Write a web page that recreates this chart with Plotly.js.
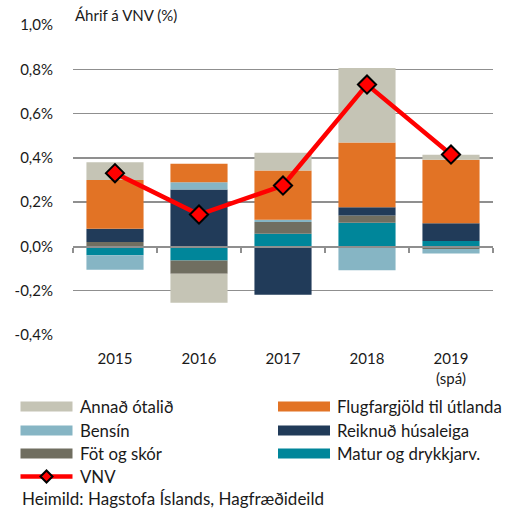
<!DOCTYPE html>
<html>
<head>
<meta charset="utf-8">
<script src="https://cdn.plot.ly/plotly-3.0.1.min.js"></script>
<style>html,body{margin:0;padding:0;background:#fff;}#chart{width:519px;height:511px;}</style>
</head>
<body>
<div id="chart"></div>
<script>
const years = ['2015', '2016', '2017', '2018', '2019<br>(spá)'];
const matur   = [-0.040, -0.063,  0.057, 0.107,  0.025];
const fot     = [ 0.020, -0.060,  0.053, 0.033, -0.012];
const reiknud = [ 0.060,  0.257, -0.218, 0.037,  0.080];
const bensin  = [-0.065,  0.033,  0.010, -0.108, -0.020];
const flug    = [ 0.220,  0.083,  0.223, 0.292,  0.286];
const annad   = [ 0.080, -0.131,  0.080, 0.337,  0.023];
const vnv     = [ 0.331,  0.144,  0.275, 0.731,  0.415];
const yTicks = [-0.4, -0.2, 0, 0.2, 0.4, 0.6, 0.8, 1.0];
const yTickText = ['-0,4%', '-0,2%', '0,0%', '0,2%', '0,4%', '0,6%', '0,8%', '1,0%'];

const names = {
  matur: 'Matur og drykkjarv.', fot: 'Föt og skór', reiknud: 'Reiknuð húsaleiga',
  bensin: 'Bensín', flug: 'Flugfargjöld til útlanda', annad: 'Annað ótalið', vnv: 'VNV'
};
const colors = {
  matur: '#00869A', fot: '#706E60', reiknud: '#213B59',
  bensin: '#86B5C4', flug: '#E27325', annad: '#C5C4B5', vnv: '#FF0000'
};

function bar(key, vals) {
  return {type: 'bar', x: years, y: vals, name: names[key],
    marker: {color: colors[key], line: {width: 0}}, showlegend: false, hoverinfo: 'y'};
}
const traces = [
  bar('matur', matur), bar('fot', fot), bar('reiknud', reiknud),
  bar('bensin', bensin), bar('flug', flug), bar('annad', annad),
  {type: 'scatter', mode: 'lines+markers', x: years, y: vnv, name: names.vnv,
   line: {color: colors.vnv, width: 4.5},
   marker: {symbol: 'diamond', size: 14, color: colors.vnv, line: {color: '#000', width: 2}},
   showlegend: false},
  {type: 'scatter', x: years, y: years.map(() => null), xaxis: 'x2', yaxis: 'y',
   showlegend: false, hoverinfo: 'skip'}
];

// plot area in px: x 73..493, y 25..335
const L = 73, R = 493, T = 25, B = 335;
const px = x => (x - L) / (R - L);
const py = y => (B - y) / (B - T);
const font = 'Lato, "Open Sans", sans-serif';
const txt = '#1a1a1a';

const legendItems = [
  {key: 'annad', col: 0, row: 0}, {key: 'flug', col: 1, row: 0},
  {key: 'bensin', col: 0, row: 1}, {key: 'reiknud', col: 1, row: 1},
  {key: 'fot', col: 0, row: 2}, {key: 'matur', col: 1, row: 2},
  {key: 'vnv', col: 0, row: 3}
];
const rowY = [406.5, 430.5, 453.5, 476.5];
const colX = [[20.5, 72.5, 78], [278, 330, 335]];
const shapes = [], annotations = [];
legendItems.forEach(it => {
  const [x0, x1, tx] = colX[it.col];
  const yc = rowY[it.row];
  if (it.key === 'vnv') {
    shapes.push({type: 'line', xref: 'paper', yref: 'paper', x0: px(x0), x1: px(x1),
      y0: py(yc), y1: py(yc), line: {color: colors.vnv, width: 4.5}});
    const cx = (x0 + x1) / 2, d = 6;
    shapes.push({type: 'path', xref: 'paper', yref: 'paper',
      path: `M ${px(cx - d)} ${py(yc)} L ${px(cx)} ${py(yc - d)} L ${px(cx + d)} ${py(yc)} L ${px(cx)} ${py(yc + d)} Z`,
      fillcolor: colors.vnv, line: {color: '#000', width: 2}});
  } else {
    shapes.push({type: 'rect', xref: 'paper', yref: 'paper', x0: px(x0), x1: px(x1),
      y0: py(yc - 5), y1: py(yc + 5), fillcolor: colors[it.key], line: {width: 0}});
  }
  annotations.push({xref: 'paper', yref: 'paper', x: px(tx), y: py(yc), xanchor: 'left',
    yanchor: 'middle', showarrow: false, text: names[it.key], font: {family: font, size: 16.8, color: txt}});
});
annotations.push({xref: 'paper', yref: 'paper', x: px(20), y: py(498), xanchor: 'left', yanchor: 'middle',
  showarrow: false, text: 'Heimild: Hagstofa Íslands, Hagfræðideild', font: {family: font, size: 17, color: txt}});
annotations.push({xref: 'paper', yref: 'paper', x: 0, y: py(15), xanchor: 'left', yanchor: 'middle',
  showarrow: false, text: 'Áhrif á VNV (%)', font: {family: font, size: 15, color: txt}});

const layout = {
  width: 519, height: 511,
  margin: {l: L, r: 519 - R, t: T, b: 511 - B},
  paper_bgcolor: '#fff', plot_bgcolor: '#fff',
  barmode: 'relative', bargap: 0.32,
  showlegend: false,
  font: {family: font, size: 15, color: txt},
  xaxis: {type: 'category', anchor: 'free', position: py(246), showline: true,
    linecolor: '#8f8f8f', linewidth: 1.5, ticks: 'outside', tickson: 'boundaries',
    ticklen: 5, tickwidth: 1.5, tickcolor: '#8f8f8f', showticklabels: false,
    showgrid: false, zeroline: false, fixedrange: true},
  xaxis2: {type: 'category', overlaying: 'x', matches: 'x', anchor: 'y', side: 'bottom',
    showline: false, ticks: '', showgrid: false, ticklabelstandoff: 13,
    tickfont: {family: font, size: 15, color: txt}},
  yaxis: {range: [-0.4, 1.0], tickvals: yTicks, ticktext: yTickText,
    showgrid: true, gridcolor: '#8f8f8f', gridwidth: 1.5, zeroline: false,
    showline: false, ticks: 'outside', ticklen: 16, tickcolor: 'rgba(0,0,0,0)',
    tickfont: {family: font, size: 15, color: txt}},
  shapes: shapes,
  annotations: annotations
};
Plotly.newPlot('chart', traces, layout, {displayModeBar: false, staticPlot: true});
</script>
</body>
</html>
